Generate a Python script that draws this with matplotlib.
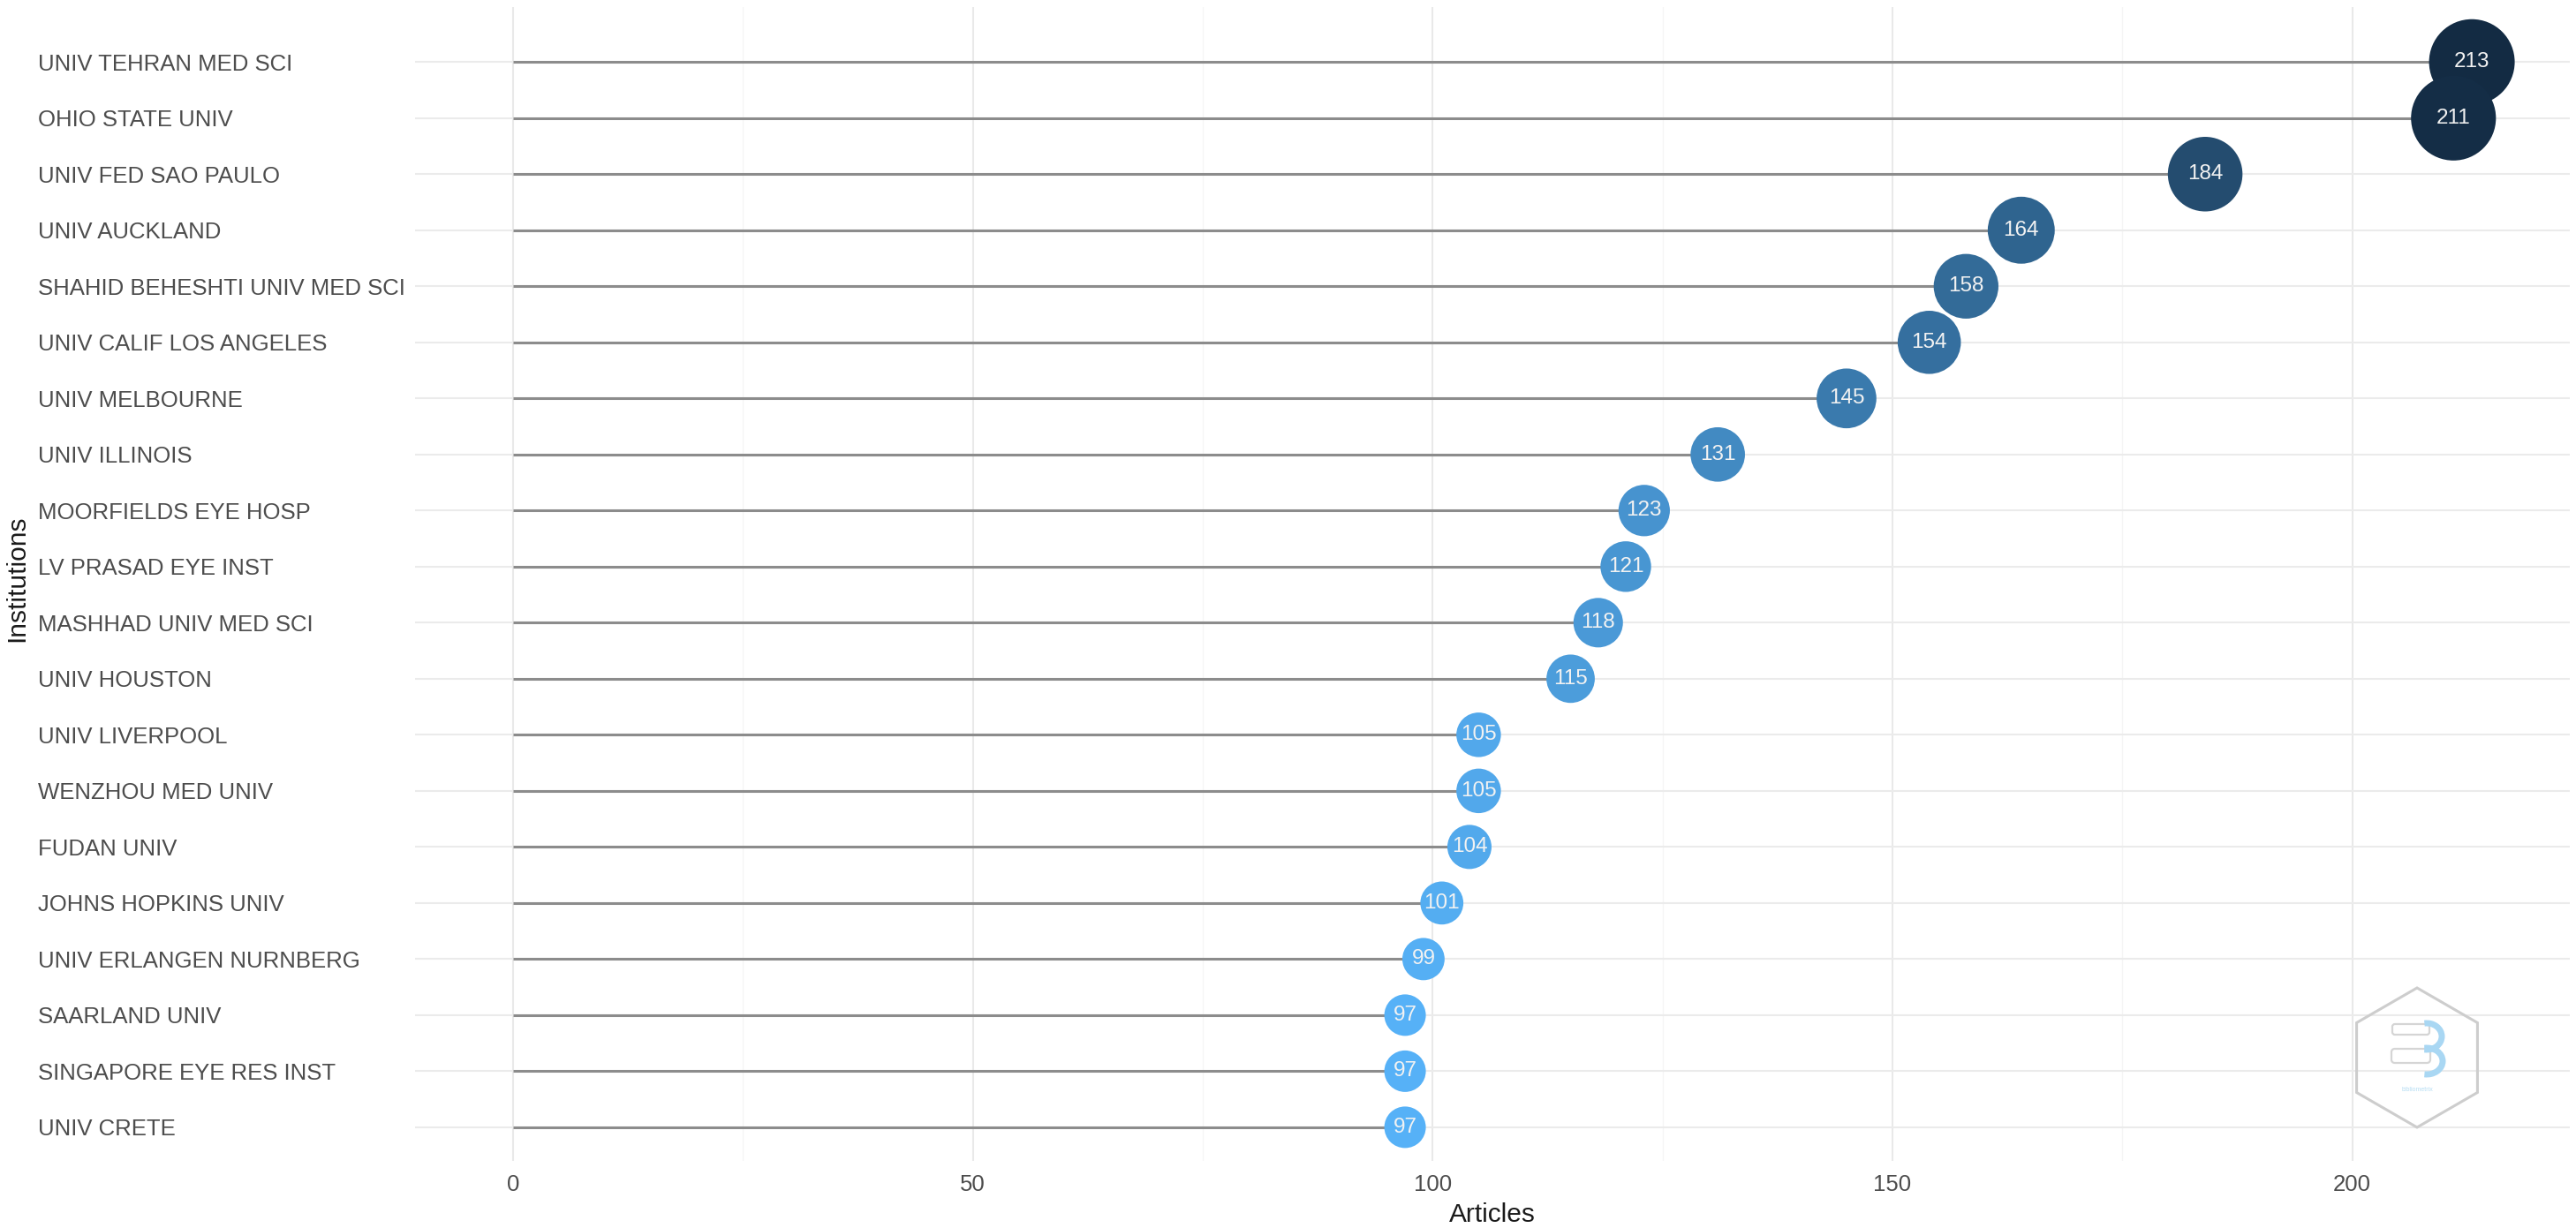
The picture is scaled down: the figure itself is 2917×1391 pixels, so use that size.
import numpy as np
import matplotlib.pyplot as plt
from matplotlib.colors import LinearSegmentedColormap
from matplotlib.patches import RegularPolygon, FancyBboxPatch, Arc

plt.rcParams['font.family'] = ['Liberation Sans', 'DejaVu Sans']

# ---------------------------------------------------------------
#                            data
# ---------------------------------------------------------------
institutions = ["UNIV TEHRAN MED SCI", "OHIO STATE UNIV", "UNIV FED SAO PAULO",
                "UNIV AUCKLAND", "SHAHID BEHESHTI UNIV MED SCI", "UNIV CALIF LOS ANGELES",
                "UNIV MELBOURNE", "UNIV ILLINOIS", "MOORFIELDS EYE HOSP",
                "LV PRASAD EYE INST", "MASHHAD UNIV MED SCI", "UNIV HOUSTON",
                "UNIV LIVERPOOL", "WENZHOU MED UNIV", "FUDAN UNIV",
                "JOHNS HOPKINS UNIV", "UNIV ERLANGEN NURNBERG", "SAARLAND UNIV",
                "SINGAPORE EYE RES INST", "UNIV CRETE"]
articles = [213, 211, 184, 164, 158, 154, 145, 131, 123, 121,
            118, 115, 105, 105, 104, 101, 99, 97, 97, 97]

x_ticks = [0, 50, 100, 150, 200]

# ---------------------------------------------------------------
#                            figure
# ---------------------------------------------------------------
W, H = 2917, 1391
fig = plt.figure(figsize=(W / 100, H / 100), dpi=100)
ax = fig.add_axes([470 / W, 1 - 1315 / H, (2910 - 470) / W, (1315 - 8) / H])

n = len(institutions)
ypos = np.arange(n)[::-1] + 1
vals = np.array(articles, dtype=float)

# colours and sizes mapped from value
cmap = LinearSegmentedColormap.from_list("bx", ["#56B1F7", "#132B43"])
vmin, vmax = vals.min(), vals.max()
colors = cmap((vals - vmin) / (vmax - vmin))
diam_px = 47 + (vals - vmin) * 50 / (vmax - vmin)
sizes = (diam_px * 0.72) ** 2

# grid
for v in [25, 75, 125, 175]:
    ax.axvline(v, color="#F5F5F5", lw=1.0, zorder=0)
for v in x_ticks:
    ax.axvline(v, color="#E9E9E9", lw=1.5, zorder=0)
for y in ypos:
    ax.axhline(y, color="#EBEBEB", lw=1.5, zorder=0)

# lollipops
ax.hlines(ypos, 0, vals, color="#8C8C8C", lw=2.2, zorder=1)
ax.scatter(vals, ypos, s=sizes, c=colors, edgecolors="none", zorder=2)
for v, y in zip(vals, ypos):
    ax.text(v, y, str(int(v)), ha="center", va="center", color="#F2F2F2",
            fontsize=17.5, zorder=3)

ax.set_xlim(-10.65, 223.65)
ax.set_ylim(0.4, 20.98)

ax.set_xticks(x_ticks)
ax.set_xticklabels([str(t) for t in x_ticks])
ax.set_yticks(ypos)
ax.set_yticklabels(institutions)
ax.tick_params(axis="x", length=0, pad=11, labelsize=18.5, labelcolor="#4D4D4D")
ax.tick_params(axis="y", length=0, pad=(470 - 43) * 0.72, labelsize=18.5,
               labelcolor="#4D4D4D")
for lab in ax.get_yticklabels():
    lab.set_horizontalalignment("left")
for s in ax.spines.values():
    s.set_visible(False)

fig.text(1690 / W, 1 - 1376 / H, "Articles", ha="center", va="center",
         fontsize=21.5, color="#1A1A1A")
fig.text(19 / W, 1 - 655 / H, "Institutions", ha="center", va="center",
         rotation=90, fontsize=21.5, color="#1A1A1A")

# watermark logo
lx0, lx1, ly0, ly1 = 2650, 2825, 1110, 1290
lax = fig.add_axes([lx0 / W, 1 - ly1 / H, (lx1 - lx0) / W, (ly1 - ly0) / H])
lax.set_xlim(lx0, lx1)
lax.set_ylim(ly1, ly0)
lax.axis("off")
lax.add_patch(RegularPolygon((2737, 1198), 6, radius=79, orientation=0,
                             facecolor="none", edgecolor="#CDCDCD", lw=2.2))
lax.add_patch(FancyBboxPatch((2712, 1163), 36, 6, boxstyle="round,pad=3",
                             facecolor="none", edgecolor="#D5D5D5", lw=1.6))
lax.add_patch(FancyBboxPatch((2712, 1192), 36, 8, boxstyle="round,pad=4",
                             facecolor="none", edgecolor="#D5D5D5", lw=1.6))
lax.add_patch(Arc((2748, 1174), 34, 30, theta1=-100, theta2=100,
                  edgecolor="#A9D7F3", lw=5))
lax.add_patch(Arc((2748, 1202), 36, 30, theta1=-100, theta2=100,
                  edgecolor="#A9D7F3", lw=5))
lax.text(2737, 1235, "bibliometrix", ha="center", va="center", fontsize=5,
         color="#B5DDF3")

fig.savefig("out.png", dpi=100)
